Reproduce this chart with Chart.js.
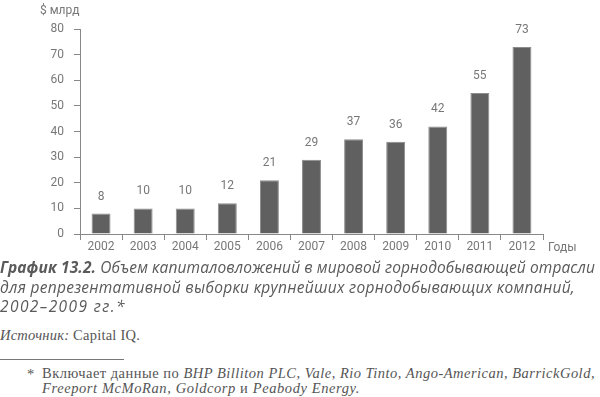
<!DOCTYPE html>
<html><head><meta charset="utf-8">
<script src="https://cdn.jsdelivr.net/npm/chart.js@4"></script>
<style>
html,body{margin:0;padding:0;background:#fff;width:600px;height:397px;overflow:hidden;position:relative}
#wrap{position:absolute;left:0;top:0;width:600px;height:256px}
.t{position:absolute;white-space:nowrap;line-height:1}
.cap{font-family:"Open Sans",sans-serif;font-style:italic;font-size:15.5px;color:#5a5a5a}
.cap b{font-weight:700}
.ser{font-family:"Liberation Serif",serif;font-size:14.5px;color:#555}
.ser i{font-style:italic}
.ax{font-family:Roboto,sans-serif;font-size:12px;color:#777}
</style></head>
<body>
<div id="wrap"><canvas id="c" width="600" height="256"></canvas></div>
<div class="t ax" style="left:40px;top:4px">$ млрд</div>
<div class="t ax" style="left:548px;top:241px">Годы</div>
<div class="t cap fit" data-w="595" style="left:0;top:260px"><b>График 13.2.</b> Объем капиталовложений в мировой горнодобывающей отрасли</div>
<div class="t cap fit" data-w="575" style="left:0;top:280px">для репрезентативной выборки крупнейших горнодобывающих компаний,</div>
<div class="t cap fit" data-w="126" style="left:0;top:299px">2002–2009 гг.*</div>
<div class="t ser fit" data-w="140" style="left:0;top:328px"><i>Источник:</i> Capital IQ.</div>
<div style="position:absolute;left:0;top:359px;width:124px;height:1px;background:#777"></div>
<div class="t ser" style="left:27px;top:367px">*</div>
<div class="t ser fit" data-w="553" style="left:42px;top:366px">Включает данные по <i>BHP Billiton PLC, Vale, Rio Tinto, Ango-American, BarrickGold,</i></div>
<div class="t ser fit" data-w="318" style="left:42px;top:381px"><i>Freeport McMoRan, Goldcorp</i> и <i>Peabody Energy.</i></div>
<script>
const years = ["2002","2003","2004","2005","2006","2007","2008","2009","2010","2011","2012"];
const capex = [8,10,10,12,21,29,37,36,42,55,73];
const yTicks = [0,10,20,30,40,50,60,70,80];

document.querySelectorAll('.fit').forEach(el=>{
  const target=parseFloat(el.dataset.w);
  const w=el.getBoundingClientRect().width;
  const n=el.textContent.length;
  el.style.letterSpacing=((target-w)/n)+'px';
});

const tickFont={family:'Roboto,sans-serif',size:12};
const valuePlugin={
  id:'vals',
  afterDatasetsDraw(chart){
    const ctx=chart.ctx;
    const meta=chart.getDatasetMeta(0);
    ctx.save();
    ctx.font='12px Roboto,sans-serif';
    ctx.fillStyle='#777';
    ctx.textAlign='center';
    ctx.textBaseline='middle';
    meta.data.forEach((bar,i)=>{
      ctx.fillText(String(capex[i]),bar.x,bar.y-17);
    });
    ctx.restore();
  }
};
new Chart(document.getElementById('c'),{
  type:'bar',
  data:{labels:years,datasets:[{data:capex,backgroundColor:'#606060',borderColor:'#8c8c8c',borderWidth:1,barPercentage:0.45,categoryPercentage:1}]},
  options:{
    responsive:false,animation:false,
    layout:{padding:{top:29,right:57,left:0,bottom:0}},
    plugins:{legend:{display:false},tooltip:{enabled:false}},
    scales:{
      x:{
        grid:{display:true,drawOnChartArea:false,drawTicks:true,tickLength:6,color:'#888',offset:true},
        border:{display:true,color:'#888',width:1},
        ticks:{color:'#777',font:tickFont,padding:0,maxRotation:0,autoSkip:false},
        afterFit(s){s.height=22;}
      },
      y:{
        min:0,max:80,
        afterBuildTicks(s){s.ticks=yTicks.map(v=>({value:v}));},
        grid:{display:true,drawOnChartArea:false,drawTicks:true,tickLength:6,color:'#888'},
        border:{display:true,color:'#888',width:1},
        ticks:{color:'#777',font:tickFont,padding:10},
        afterFit(s){s.width=80;}
      }
    }
  },
  plugins:[valuePlugin]
});
</script>
</body></html>
